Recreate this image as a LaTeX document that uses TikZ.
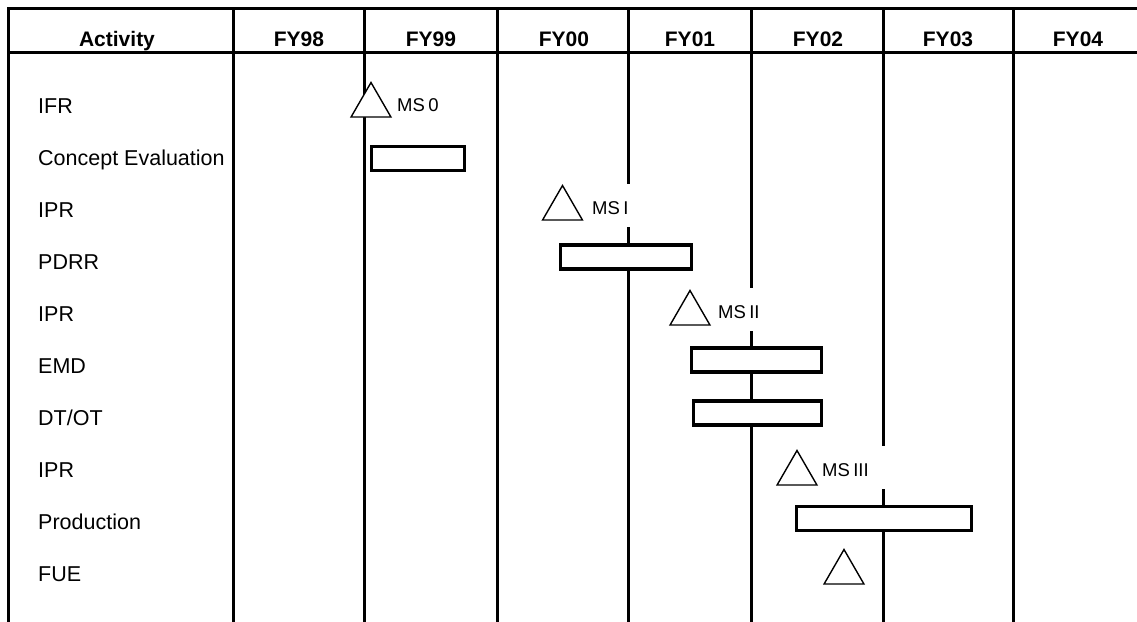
\documentclass[tikz,border=0pt]{standalone}
\usepackage{fontspec}
\setmainfont{Liberation Sans}
\usetikzlibrary{shapes.geometric}
\newcommand{\headfont}{\fontsize{21}{25}\selectfont\bfseries}
\newcommand{\rowfont}{\fontsize{21.5}{26}\selectfont}
\newcommand{\msfont}{\fontsize{18.5}{22}\selectfont}
\tikzset{
  gridline/.style={line width=3pt,line cap=rect},
  taskbox/.style={draw,fill=white,line width=3.2pt,minimum height=24pt,inner sep=0pt},
  mstri/.style={draw,fill=white,regular polygon,regular polygon sides=3,
    minimum size=46pt,inner sep=0pt,line width=1.4pt},
  mslabel/.style={fill=white,anchor=base west,text width=62pt,align=left,
    inner xsep=2pt,inner ysep=0pt,text height=18pt,text depth=0pt,minimum height=43pt},
}
\newcommand{\colhead}[3]{%
  \node[anchor=base,inner sep=0pt] (#1) at (#2,46) {\headfont #3};
}
\newcommand{\activity}[3]{%
  \node[anchor=base west,inner sep=0pt] (#1) at (38,#2) {\rowfont #3};
}
\newcommand{\taskbar}[4]{%
  \node[taskbox,minimum width=#4pt] (#1) at (#2,#3) {};
}
\newcommand{\milestone}[3]{%
  \node[mstri] (#1) at (#2,#3) {};
}

\begin{document}
\begin{tikzpicture}[x=1pt,y=-1pt]
  \useasboundingbox (0,0) rectangle (1137,621);

  % table rules
  \draw[gridline] (8,8) -- (1137,8);
  \draw[gridline] (8,52) -- (1137,52);
  \foreach \x in {8,233,364,497,628,751,883,1013}{%
    \draw[gridline] (\x,8) -- (\x,621);
  }

  \colhead{hact}{117}{Activity}
  \colhead{hfy98}{299}{FY98}
  \colhead{hfy99}{431}{FY99}
  \colhead{hfy00}{564}{FY00}
  \colhead{hfy01}{690}{FY01}
  \colhead{hfy02}{818}{FY02}
  \colhead{hfy03}{948}{FY03}
  \colhead{hfy04}{1078}{FY04}

  \activity{ifr}{113}{IFR}
  \activity{ceval}{165}{Concept Evaluation}
  \activity{iprone}{217}{IPR}
  \activity{pdrr}{269}{PDRR}
  \activity{iprtwo}{321}{IPR}
  \activity{emd}{373}{EMD}
  \activity{dtot}{425}{DT/OT}
  \activity{iprthree}{477}{IPR}
  \activity{prod}{529}{Production}
  \activity{fue}{581}{FUE}

  % milestone labels (they blank the year rules behind them)
  \node[mslabel] (msz) at (395,111) {\msfont MS 0};
  \node[mslabel] (msi) at (590,214) {\msfont MS I};
  \node[mslabel] (msii) at (716,318) {\msfont MS II};
  \node[mslabel] (msiii) at (820,476) {\msfont MS III};

  \milestone{trz}{371}{105.5}
  \milestone{tri}{562.5}{208.5}
  \milestone{trii}{690}{313.5}
  \milestone{triii}{797}{473.5}
  \milestone{trfue}{844}{572.5}

  % task bars
  \taskbar{bceval}{418}{158.5}{93}
  \taskbar{bpdrr}{626}{257}{131}
  \taskbar{bemd}{756.5}{360}{130}
  \taskbar{bdtot}{757.5}{413}{128}
  \taskbar{bprod}{884}{518.5}{175}
\end{tikzpicture}
\end{document}
